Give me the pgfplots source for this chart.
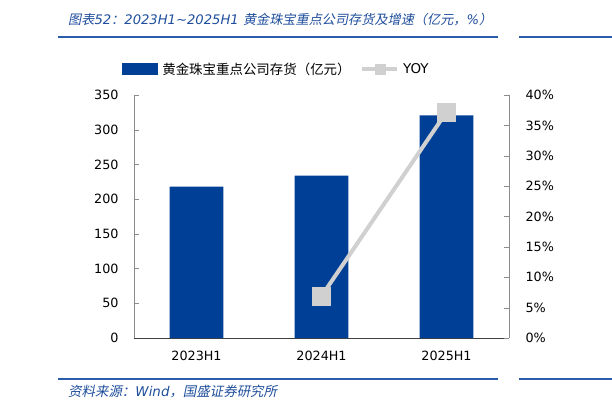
\documentclass[border=0pt]{standalone}
\usepackage{pgfplots}
\pgfplotsset{compat=1.18}
\usepackage{fontspec}
\setmainfont{DejaVu Sans}
\newfontfamily\cjk{Noto Sans CJK SC}
\newfontfamily\cjkit{Noto Sans CJK SC}[FakeSlant=0.2]
\definecolor{barblue}{HTML}{003F96}
\definecolor{titleblue}{HTML}{1F4E9C}
\definecolor{rulblue}{HTML}{2A5CAA}
\definecolor{linegray}{HTML}{D0D0D0}
\definecolor{axisgray}{HTML}{8C8C8C}
\begin{document}
\begin{tikzpicture}[x=1bp,y=1bp]
\path[use as bounding box] (0,0) rectangle (612,411);
% title
\node[anchor=west,inner sep=0,text=titleblue,font=\fontsize{13.2}{16}\selectfont] at (68,391)
 {{\cjkit 图表}{\itshape 52}{\cjkit ：}{\itshape 2023H1{\char"7E}2025H1 }{\cjkit 黄金珠宝重点公司存货及增速（亿元，}{\itshape\%}{\cjkit ）}};
\draw[rulblue,line width=1.6bp] (58,374.3) -- (498,374.3);
\draw[rulblue,line width=1.6bp] (519,374.3) -- (612,374.3);
\draw[rulblue,line width=1.6bp] (58,32) -- (498,32);
\draw[rulblue,line width=1.6bp] (519,32) -- (612,32);
\node[anchor=west,inner sep=0,text=titleblue,font=\fontsize{13.5}{16}\selectfont] at (68,19)
 {{\cjkit 资料来源：}{\itshape Wind}{\cjkit ，国盛证券研究所}};

\begin{axis}[
  at={(134bp,73bp)}, anchor=south west, scale only axis,
  width=375bp, height=243bp,
  xmin=-0.5, xmax=2.5, ymin=0, ymax=350,
  ytick={0,50,...,350},
  xtick={0,1,2}, xticklabels={2023H1,2024H1,2025H1},
  xtick style={draw=none},
  extra x ticks={0.5,1.5}, extra x tick labels={},
  extra x tick style={major tick style={draw=axisgray}},
  axis x line*=bottom, axis y line*=left,
  axis line style={axisgray},
  x axis line style={black!75},
  tick align=inside, major tick length=5bp,
  ytick style={axisgray},
  tick label style={font=\fontsize{12.8}{15}\selectfont, text=black},
  /pgf/number format/assume math mode=true,
  yticklabel style={xshift=-12bp},
  xticklabel style={yshift=-10bp},
  legend columns=2,
  legend style={at={(0.38,1.107)}, anchor=center, draw=none, fill=none,
    font=\fontsize{13.5}{16}\selectfont, column sep=2bp,
    /tikz/every even column/.append style={column sep=8bp}},
]
\addplot[ybar, bar width=0.43, fill=barblue, draw=none,
  area legend,
  legend image code/.code={\fill[barblue] (0bp,-5.5bp) rectangle (36bp,5.5bp);}]
  coordinates {(0,218) (1,233.8) (2,320.7)};
\addlegendentry{\cjk 黄金珠宝重点公司存货（亿元）}
\addlegendimage{legend image code/.code={
   \draw[linegray,line width=3.5bp] (0bp,0bp) -- (35bp,0bp);
   \fill[linegray] (13bp,-5bp) rectangle (23bp,5bp);}}
\addlegendentry{YOY}
\end{axis}

\begin{axis}[
  at={(134bp,73bp)}, anchor=south west, scale only axis,
  width=375bp, height=243bp,
  xmin=-0.5, xmax=2.5, ymin=0, ymax=40,
  ytick={0,5,...,40},
  yticklabel={\pgfmathprintnumber{\tick}\%},
  axis x line=none, axis y line*=right,
  axis line style={axisgray},
  tick align=inside, major tick length=5bp,
  ytick style={axisgray},
  tick label style={font=\fontsize{12.8}{15}\selectfont, text=black},
  /pgf/number format/assume math mode=true,
  yticklabel style={xshift=13bp},
]
\addplot[linegray, line width=4bp, mark=square*, mark size=7.5bp,
  mark options={fill=linegray, draw=none}]
  coordinates {(1,6.9) (2,37.2)};
\end{axis}
\end{tikzpicture}
\end{document}
